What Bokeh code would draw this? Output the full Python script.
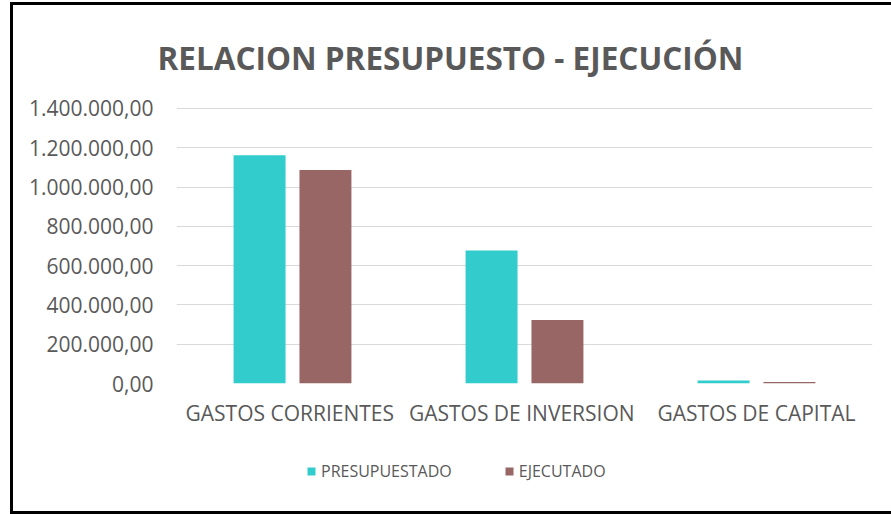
from bokeh.plotting import figure
from bokeh.models import FactorRange, Range1d, FixedTicker, Legend, LegendItem, ColumnDataSource
from bokeh.transform import dodge
from bokeh.layouts import column
from bokeh.embed import file_html
from bokeh.resources import INLINE

categories = ["GASTOS  CORRIENTES", "GASTOS  DE INVERSION", "GASTOS DE CAPITAL"]
presupuestado = [1162000, 677000, 15000]
ejecutado = [1087000, 323000, 7000]
tick_values = [0, 200000, 400000, 600000, 800000, 1000000, 1200000, 1400000]
tick_labels = ["0,00", "200.000,00", "400.000,00", "600.000,00", "800.000,00",
               "1.000.000,00", "1.200.000,00", "1.400.000,00"]
series_names = ["PRESUPUESTADO", "EJECUTADO"]
colors = ["#33CCCC", "#996666"]

src = ColumnDataSource(dict(cat=categories, pre=presupuestado, eje=ejecutado))

FONT = "Open Sans"
TXT = "#595959"

p = figure(width=881, height=440, output_backend="svg", toolbar_location=None,
           x_range=FactorRange(*categories, range_padding=0),
           y_range=Range1d(0, 1405000),
           min_border_left=163, min_border_right=22, min_border_top=100,
           min_border_bottom=62)
p.styles = {"border-left": "3px solid black",
            "border-top": "3px solid black",
            "margin-left": "10px", "margin-top": "2px"}
p.title.text = "RELACION PRESUPUESTO - EJECUCIÓN"
p.title.align = "left"
p.title.offset = -19
p.title.text_font = FONT
p.title.text_font_size = "31.5px"
p.title.text_font_style = "bold"
p.title.text_color = TXT
p.title.standoff = 57

p.vbar(x=dodge("cat", -0.142, range=p.x_range), top="pre", width=0.224,
       source=src, color=colors[0], line_color=None)
p.vbar(x=dodge("cat", 0.142, range=p.x_range), top="eje", width=0.224,
       source=src, color=colors[1], line_color=None)

p.yaxis.ticker = FixedTicker(ticks=tick_values)
p.yaxis.major_label_overrides = {v: l for v, l in zip(tick_values, tick_labels)}
for ax in (p.xaxis, p.yaxis):
    ax.axis_line_color = None
    ax.major_tick_line_color = None
    ax.minor_tick_line_color = None
    ax.major_label_text_font = FONT
    ax.major_label_text_color = TXT
p.yaxis.major_label_text_font_size = "21px"
p.xaxis.major_label_text_font_size = "21px"
p.yaxis.major_label_standoff = 17
p.xaxis.major_label_standoff = 9

p.xgrid.grid_line_color = None
p.ygrid.grid_line_color = "#D9D9D9"
p.ygrid.grid_line_width = 1
p.outline_line_color = None

# legend strip
pl = figure(width=881, height=72, output_backend="svg", toolbar_location=None,
            x_range=Range1d(0, 1), y_range=Range1d(0, 1),
            min_border=0)
pl.styles = {"border-left": "3px solid black",
             "border-bottom": "3px solid black",
             "margin-left": "10px"}
pl.axis.visible = False
pl.grid.grid_line_color = None
pl.outline_line_color = None
nan = float("nan")
l1 = pl.vbar(x=[nan], top=[nan], width=0.1, color=colors[0], line_color=None)
l2 = pl.vbar(x=[nan], top=[nan], width=0.1, color=colors[1], line_color=None)
legend = Legend(items=[LegendItem(label=series_names[0], renderers=[l1]),
                       LegendItem(label=series_names[1], renderers=[l2])],
                orientation="horizontal", location=(130, 32))
legend.label_text_font = FONT
legend.label_text_font_size = "16px"
legend.label_text_color = TXT
legend.glyph_width = 10
legend.glyph_height = 10
legend.spacing = 52
legend.label_standoff = 5
legend.padding = 0
legend.margin = 0
legend.border_line_color = None
legend.background_fill_alpha = 0
pl.add_layout(legend, "center")

layout = column(p, pl, spacing=0)

open("out.html", "w").write(file_html(layout, INLINE))
